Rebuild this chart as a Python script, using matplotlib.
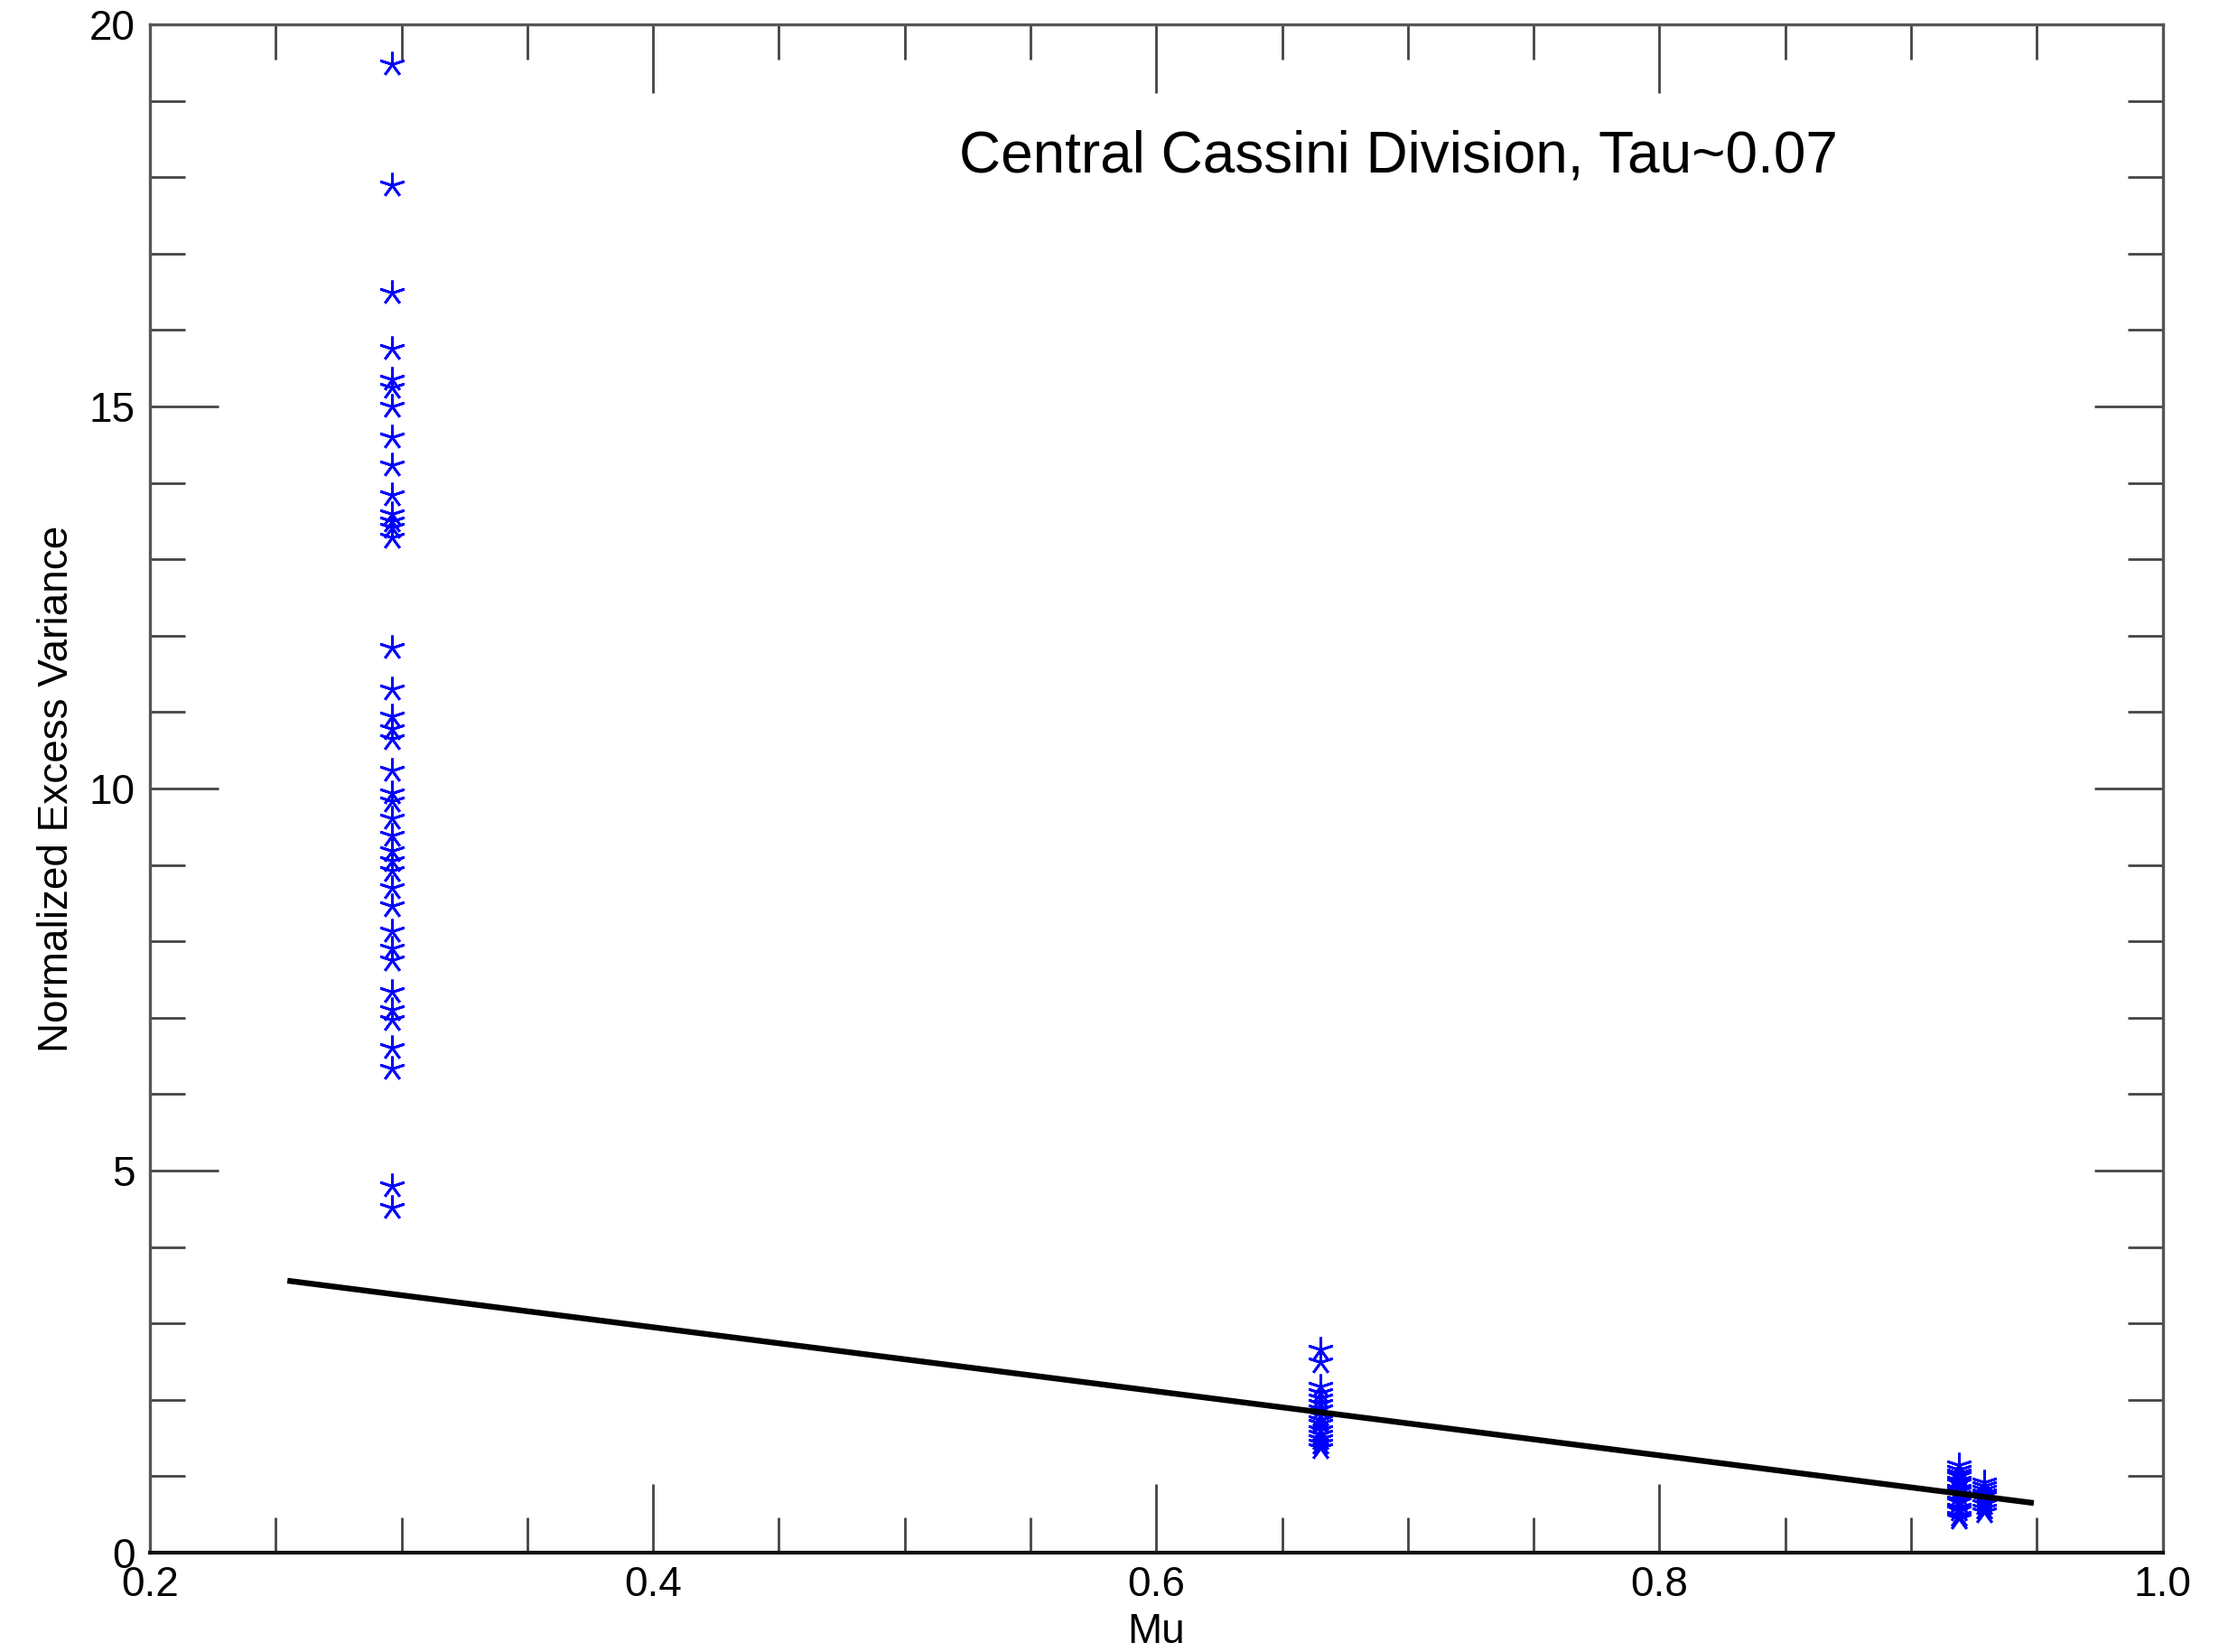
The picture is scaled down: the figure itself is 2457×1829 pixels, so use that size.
import matplotlib
matplotlib.use("Agg")
import matplotlib.pyplot as plt
from matplotlib.ticker import MultipleLocator, FixedLocator

plt.rcParams['font.family'] = ['Liberation Sans', 'DejaVu Sans']

# Normalized excess variance measured at three viewing geometries (mu)
mu_low = 0.2962
nev_low = [19.48, 17.90, 16.49, 15.76, 15.35, 15.25, 15.00, 14.60, 14.23, 13.84,
           13.60, 13.50, 13.42, 13.29, 11.84, 11.30, 10.95, 10.78, 10.65, 10.24,
           9.94, 9.83, 9.61, 9.39, 9.19, 9.06, 8.92, 8.70, 8.47, 8.13,
           7.91, 7.76, 7.34, 7.11, 6.97, 6.61, 6.34, 4.80, 4.52]

mu_mid = 0.6652
nev_mid = [2.66, 2.50, 2.17, 2.09, 2.02, 1.95, 1.88, 1.80, 1.74, 1.69,
           1.61, 1.55, 1.49, 1.43, 1.37]

mu_high_a = 0.9190
nev_high_a = [1.15, 1.09, 1.04, 1.01, 0.95, 0.91, 0.84, 0.81, 0.76, 0.69,
              0.66, 0.59, 0.56, 0.49, 0.45]

mu_high_b = 0.9289
nev_high_b = [0.92, 0.87, 0.83, 0.78, 0.74, 0.69, 0.64, 0.58, 0.53]

# Linear model over the observed mu range
fit_mu = [0.2546, 0.9488]
fit_nev = [3.56, 0.65]

title_text = "Central Cassini Division, Tau~0.07"
x_ticks = [0.2, 0.4, 0.6, 0.8, 1.0]
x_ticklabels = ["0.2", "0.4", "0.6", "0.8", "1.0"]
y_ticks = [0, 5, 10, 15, 20]
y_ticklabels = ["0", "5", "10", "15", "20"]

fig = plt.figure(figsize=(24.57, 18.29), dpi=100)
ax = fig.add_axes([0.0676, 0.0601, 0.9070, 0.9251])

star = (5, 2, 0)
mstyle = dict(marker=star, linestyle='none', markersize=20, markeredgewidth=2.0,
              color=(0, 0, 1), markeredgecolor=(0, 0, 1))
ax.plot([mu_low] * len(nev_low), nev_low, **mstyle)
ax.plot([mu_mid] * len(nev_mid), nev_mid, **mstyle)
ax.plot([mu_high_a] * len(nev_high_a), nev_high_a, **mstyle)
ax.plot([mu_high_b] * len(nev_high_b), nev_high_b, **mstyle)

ax.plot(fit_mu, fit_nev, color='black', linewidth=4.6, solid_capstyle='butt')

ax.set_xlim(0.2, 1.0)
ax.set_ylim(0, 20)
ax.xaxis.set_major_locator(FixedLocator(x_ticks))
ax.set_xticklabels(x_ticklabels)
ax.xaxis.set_minor_locator(MultipleLocator(0.05))
ax.yaxis.set_major_locator(FixedLocator(y_ticks))
ax.set_yticklabels(y_ticklabels)
ax.yaxis.set_minor_locator(MultipleLocator(1))

ax.tick_params(which='both', direction='in', top=True, right=True,
               color='#444444', width=2.0)
ax.tick_params(which='major', length=55, labelsize=33)
ax.tick_params(axis='x', which='major', pad=10)
ax.tick_params(axis='y', which='major', pad=12)
ax.tick_params(which='minor', length=28)

for side in ['left', 'right', 'top']:
    ax.spines[side].set_linewidth(2.4)
    ax.spines[side].set_color('#555555')
ax.spines['bottom'].set_linewidth(3.0)
ax.spines['bottom'].set_color('#111111')

ax.set_xlabel("Mu", fontsize=33, labelpad=6)
ax.set_ylabel("Normalized Excess Variance", fontsize=33, labelpad=10)

ax.text(0.5216, 18.07, title_text, fontsize=46, ha='left', va='baseline')

fig.savefig("out.png", dpi=100, facecolor='white')
